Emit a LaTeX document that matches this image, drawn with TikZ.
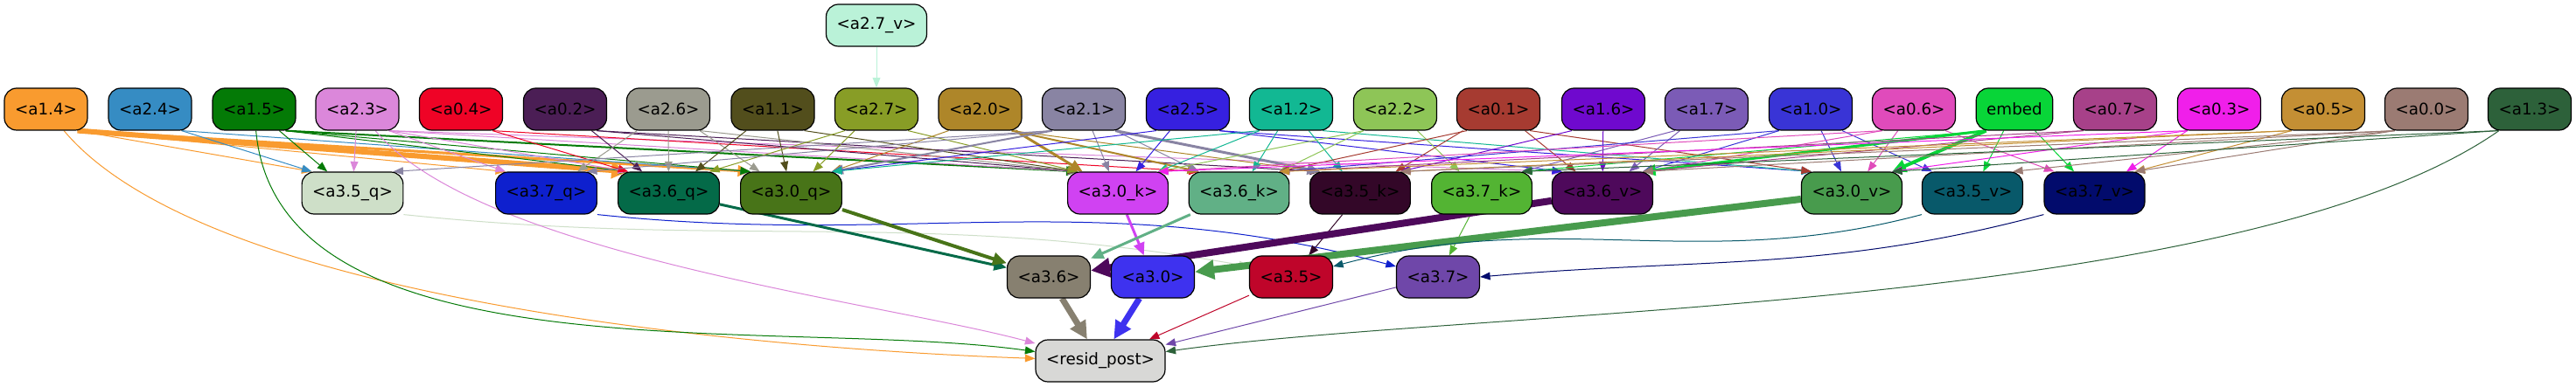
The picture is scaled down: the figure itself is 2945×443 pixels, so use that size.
\documentclass[tikz,border=0pt]{standalone}
\usepackage{fontspec}
\setmainfont{DejaVu Sans}
\usepackage{tikz}
\usetikzlibrary{arrows.meta}
\usetikzlibrary{backgrounds}
\usepackage{color}

\definecolor{cv27}{HTML}{BAF2D8}
\definecolor{c14}{HTML}{F99B2F}
\definecolor{c24}{HTML}{368CC3}
\definecolor{c15}{HTML}{047A06}
\definecolor{c23}{HTML}{DB87DA}
\definecolor{c04}{HTML}{EF0326}
\definecolor{c02}{HTML}{4B1E55}
\definecolor{c26}{HTML}{9B9B8F}
\definecolor{c11}{HTML}{524E1C}
\definecolor{c27}{HTML}{889D26}
\definecolor{c20}{HTML}{AE8629}
\definecolor{c21}{HTML}{8984A3}
\definecolor{c25}{HTML}{3620E0}
\definecolor{c12}{HTML}{12B893}
\definecolor{c22}{HTML}{8EC557}
\definecolor{c01}{HTML}{A63B31}
\definecolor{c16}{HTML}{6F09CE}
\definecolor{c17}{HTML}{7B5BB6}
\definecolor{c10}{HTML}{3934D6}
\definecolor{c06}{HTML}{E04BBB}
\definecolor{cemb}{HTML}{08D538}
\definecolor{c07}{HTML}{A74189}
\definecolor{c03}{HTML}{F01FEA}
\definecolor{c05}{HTML}{C48F34}
\definecolor{c00}{HTML}{9B7B73}
\definecolor{c13}{HTML}{2D613A}
\definecolor{cq35}{HTML}{CEDFC8}
\definecolor{cq37}{HTML}{0E20CE}
\definecolor{cq36}{HTML}{046A48}
\definecolor{cq30}{HTML}{487418}
\definecolor{ck30}{HTML}{D042F2}
\definecolor{ck36}{HTML}{61B086}
\definecolor{ck35}{HTML}{330728}
\definecolor{ck37}{HTML}{53B433}
\definecolor{cv36}{HTML}{4E095B}
\definecolor{cv30}{HTML}{489B4D}
\definecolor{cv35}{HTML}{08596A}
\definecolor{cv37}{HTML}{020B6C}
\definecolor{co36}{HTML}{878070}
\definecolor{co30}{HTML}{3E32EF}
\definecolor{co35}{HTML}{BF052A}
\definecolor{co37}{HTML}{6F47A9}
\definecolor{cres}{HTML}{D8D8D6}

\begin{document}
\begin{tikzpicture}[x=0.5pt, y=-0.5pt,
  box/.style={draw=black, line width=0.6pt, rounded corners=7pt, minimum height=24pt,
    inner xsep=6pt, inner ysep=0pt, font=\fontsize{9.15}{11}\selectfont},
  edge/.style={line width=0.5pt, -{Triangle[length=5pt 1.5, width=3.5pt 1.8]}}]

\useasboundingbox (0,0) rectangle (2945,443);

% top
\node [box, fill=cv27] (v27) at (1002,29) {<a2.7\_v>};

% first row
\node [box, fill=c14] (n14) at (52.5,125) {<a1.4>};
\node [box, fill=c24] (n24) at (171.5,125) {<a2.4>};
\node [box, fill=c15] (n15) at (290.5,125) {<a1.5>};
\node [box, fill=c23] (n23) at (408.5,125) {<a2.3>};
\node [box, fill=c04] (n04) at (527,125) {<a0.4>};
\node [box, fill=c02] (n02) at (646,125) {<a0.2>};
\node [box, fill=c26] (n26) at (764,125) {<a2.6>};
\node [box, fill=c11] (n11) at (883.5,125) {<a1.1>};
\node [box, fill=c27] (n27) at (1002,125) {<a2.7>};
\node [box, fill=c20] (n20) at (1120.5,125) {<a2.0>};
\node [box, fill=c21] (n21) at (1239,125) {<a2.1>};
\node [box, fill=c25] (n25) at (1358,125) {<a2.5>};
\node [box, fill=c12] (n12) at (1476,125) {<a1.2>};
\node [box, fill=c22] (n22) at (1595,125) {<a2.2>};
\node [box, fill=c01] (n01) at (1713,125) {<a0.1>};
\node [box, fill=c16] (n16) at (1833,125) {<a1.6>};
\node [box, fill=c17] (n17) at (1951,125) {<a1.7>};
\node [box, fill=c10] (n10) at (2070,125) {<a1.0>};
\node [box, fill=c06] (n06) at (2188,125) {<a0.6>};
\node [box, fill=cemb] (emb) at (2303,125) {embed};
\node [box, fill=c07] (n07) at (2418,125) {<a0.7>};
\node [box, fill=c03] (n03) at (2537,125) {<a0.3>};
\node [box, fill=c05] (n05) at (2656,125) {<a0.5>};
\node [box, fill=c00] (n00) at (2774,125) {<a0.0>};
\node [box, fill=c13] (n13) at (2892,125) {<a1.3>};

% second row
\node [box, fill=cq35] (q35) at (403,221) {<a3.5\_q>};
\node [box, fill=cq37] (q37) at (624.5,221) {<a3.7\_q>};
\node [box, fill=cq36] (q36) at (764.5,221) {<a3.6\_q>};
\node [box, fill=cq30] (q30) at (904.5,221) {<a3.0\_q>};
\node [box, fill=ck30] (k30) at (1278,221) {<a3.0\_k>};
\node [box, fill=ck36] (k36) at (1416.5,221) {<a3.6\_k>};
\node [box, fill=ck35] (k35) at (1555,221) {<a3.5\_k>};
\node [box, fill=ck37] (k37) at (1694,221) {<a3.7\_k>};
\node [box, fill=cv36] (v36) at (1832,221) {<a3.6\_v>};
\node [box, fill=cv30] (v30) at (2117,221) {<a3.0\_v>};
\node [box, fill=cv35] (v35) at (2255,221) {<a3.5\_v>};
\node [box, fill=cv37] (v37) at (2394.5,221) {<a3.7\_v>};

% third row
\node [box, fill=co36] (o36) at (1199,317) {<a3.6>};
\node [box, fill=co30] (o30) at (1318,317) {<a3.0>};
\node [box, fill=co35] (o35) at (1476,317) {<a3.5>};
\node [box, fill=co37] (o37) at (1644,317) {<a3.7>};

% output
\node [box, fill=cres] (resid) at (1258,413) {<resid\_post>};

\begin{scope}[on background layer]
\fill [white] (0,0) rectangle (2945,443);

% top to first row
\draw [edge, draw=cv27] (v27) -- (n27);

% first row to second row
\draw [edge, draw=c14] ([xshift=-6pt]n14.south east) -- ([xshift=6pt]q35.north west);
\draw [edge, draw=c14] ([xshift=-6pt]n14.south east) -- ([xshift=6pt]q37.north west);
\draw [edge, draw=c14, line width=3pt] ([xshift=-6pt]n14.south east) -- ([xshift=6pt]q36.north west);
\draw [edge, draw=c14, line width=1.5pt] ([xshift=-6pt]n14.south east) -- ([xshift=6pt]q30.north west);
\draw [edge, draw=c24] ([xshift=-6pt]n24.south east) -- ([xshift=6pt]q35.north west);
\draw [edge, draw=c24] ([xshift=-6pt]n24.south east) -- ([xshift=6pt]q30.north west);
\draw [edge, draw=c15] (n15) -- (q35);
\draw [edge, draw=c15] ([xshift=-6pt]n15.south east) -- ([xshift=6pt]q36.north west);
\draw [edge, draw=c15] ([xshift=-6pt]n15.south east) -- ([xshift=6pt]q30.north west);
\draw [edge, draw=c15, line width=1pt] ([xshift=-6pt]n15.south east) -- ([xshift=6pt]k30.north west);
\draw [edge, draw=c23] (n23) -- (q35);
\draw [edge, draw=c23] ([xshift=-6pt]n23.south east) -- ([xshift=6pt]q37.north west);
\draw [edge, draw=c23] ([xshift=-6pt]n23.south east) -- ([xshift=6pt]q36.north west);
\draw [edge, draw=c23] ([xshift=-6pt]n23.south east) -- ([xshift=6pt]k30.north west);
\draw [edge, draw=c23] ([xshift=-6pt]n23.south east) -- ([xshift=6pt]v36.north west);
\draw [edge, draw=c04] ([xshift=-6pt]n04.south east) -- ([xshift=6pt]q36.north west);
\draw [edge, draw=c04] ([xshift=-6pt]n04.south east) -- ([xshift=6pt]k36.north west);
\draw [edge, draw=c02] (n02) -- (q36);
\draw [edge, draw=c02] ([xshift=-6pt]n02.south east) -- ([xshift=6pt]k30.north west);
\draw [edge, draw=c02] ([xshift=-6pt]n02.south east) -- ([xshift=6pt]k35.north west);
\draw [edge, draw=c26] (n26) -- (q37);
\draw [edge, draw=c26] (n26) -- (q36);
\draw [edge, draw=c26] (n26) -- (q30);
\draw [edge, draw=c26] ([xshift=-6pt]n26.south east) -- ([xshift=6pt]k30.north west);
\draw [edge, draw=c11] (n11) -- (q36);
\draw [edge, draw=c11] (n11) -- (q30);
\draw [edge, draw=c11] ([xshift=-6pt]n11.south east) -- ([xshift=6pt]k30.north west);
\draw [edge, draw=c27] (n27) -- (q30);
\draw [edge, draw=c27] ([xshift=6pt]n27.south west) -- ([xshift=-6pt]q36.north east);
\draw [edge, draw=c27] ([xshift=-6pt]n27.south east) -- ([xshift=6pt]k30.north west);
\draw [edge, draw=c20] ([xshift=6pt]n20.south west) -- ([xshift=-6pt]q30.north east);
\draw [edge, draw=c20, line width=1.5pt] (n20) -- (k30);
\draw [edge, draw=c20, line width=1pt] ([xshift=-6pt]n20.south east) -- ([xshift=6pt]k36.north west);
\draw [edge, draw=c20] ([xshift=-6pt]n20.south east) -- ([xshift=6pt]k35.north west);
\draw [edge, draw=c21] ([xshift=6pt]n21.south west) -- ([xshift=-6pt]q35.north east);
\draw [edge, draw=c21] ([xshift=6pt]n21.south west) -- ([xshift=-6pt]q37.north east);
\draw [edge, draw=c21, line width=1pt] ([xshift=6pt]n21.south west) -- ([xshift=-6pt]q30.north east);
\draw [edge, draw=c21] (n21) -- (k30);
\draw [edge, draw=c21] ([xshift=-6pt]n21.south east) -- ([xshift=6pt]k36.north west);
\draw [edge, draw=c21, line width=1.5pt] ([xshift=-6pt]n21.south east) -- ([xshift=6pt]k35.north west);
\draw [edge, draw=c25] ([xshift=6pt]n25.south west) -- ([xshift=-6pt]q30.north east);
\draw [edge, draw=c25] (n25) -- (k30);
\draw [edge, draw=c25] ([xshift=-6pt]n25.south east) -- ([xshift=6pt]v36.north west);
\draw [edge, draw=c25] ([xshift=-6pt]n25.south east) -- ([xshift=6pt]v30.north west);
\draw [edge, draw=c12] ([xshift=6pt]n12.south west) -- ([xshift=-6pt]q30.north east);
\draw [edge, draw=c12] ([xshift=6pt]n12.south west) -- ([xshift=-6pt]k30.north east);
\draw [edge, draw=c12] (n12) -- (k36);
\draw [edge, draw=c12] (n12) -- (k35);
\draw [edge, draw=c12] ([xshift=-6pt]n12.south east) -- ([xshift=6pt]v30.north west);
\draw [edge, draw=c22] ([xshift=6pt]n22.south west) -- ([xshift=-6pt]k30.north east);
\draw [edge, draw=c22] ([xshift=6pt]n22.south west) -- ([xshift=-6pt]k36.north east);
\draw [edge, draw=c22] (n22) -- (k37);
\draw [edge, draw=c01] ([xshift=6pt]n01.south west) -- ([xshift=-6pt]k36.north east);
\draw [edge, draw=c01] (n01) -- (k35);
\draw [edge, draw=c01] (n01) -- (v36);
\draw [edge, draw=c01] ([xshift=-6pt]n01.south east) -- ([xshift=6pt]v30.north west);
\draw [edge, draw=c16] (n16) -- (v36);
\draw [edge, draw=c16] ([xshift=6pt]n16.south west) -- ([xshift=-6pt]k35.north east);
\draw [edge, draw=c17] (n17) -- (v36);
\draw [edge, draw=c17] ([xshift=6pt]n17.south west) -- ([xshift=-6pt]k37.north east);
\draw [edge, draw=c10] ([xshift=6pt]n10.south west) -- ([xshift=-6pt]v36.north east);
\draw [edge, draw=c10] (n10) -- (v30);
\draw [edge, draw=c10] ([xshift=-6pt]n10.south east) -- ([xshift=6pt]v35.north west);
\draw [edge, draw=c10] ([xshift=6pt]n10.south west) -- ([xshift=-6pt]k36.north east);
\draw [edge, draw=c06] ([xshift=6pt]n06.south west) -- ([xshift=-6pt]v36.north east);
\draw [edge, draw=c06] (n06) -- (v30);
\draw [edge, draw=c06] ([xshift=-6pt]n06.south east) -- ([xshift=6pt]v37.north west);
\draw [edge, draw=c06] ([xshift=6pt]n06.south west) -- ([xshift=-6pt]k30.north east);
\draw [edge, draw=cemb, line width=1.5pt] ([xshift=6pt]emb.south west) -- ([xshift=-6pt]v36.north east);
\draw [edge, draw=cemb, line width=2pt] ([xshift=6pt]emb.south west) -- ([xshift=-6pt]v30.north east);
\draw [edge, draw=cemb] (emb) -- (v35);
\draw [edge, draw=cemb] (emb) -- (v37);
\draw [edge, draw=cemb] ([xshift=6pt]emb.south west) -- ([xshift=-6pt]k37.north east);
\draw [edge, draw=c07] ([xshift=6pt]n07.south west) -- ([xshift=-6pt]k36.north east);
\draw [edge, draw=c07] ([xshift=6pt]n07.south west) -- ([xshift=-6pt]v36.north east);
\draw [edge, draw=c03] ([xshift=6pt]n03.south west) -- ([xshift=-6pt]v30.north east);
\draw [edge, draw=c03] (n03) -- (v37);
\draw [edge, draw=c03] ([xshift=6pt]n03.south west) -- ([xshift=-6pt]k30.north east);
\draw [edge, draw=c05] ([xshift=6pt]n05.south west) -- ([xshift=-6pt]v37.north east);
\draw [edge, draw=c05] ([xshift=6pt]n05.south west) -- ([xshift=-6pt]k35.north east);
\draw [edge, draw=c05] ([xshift=6pt]n05.south west) -- ([xshift=-6pt]k36.north east);
\draw [edge, draw=c00] ([xshift=6pt]n00.south west) -- ([xshift=-6pt]v37.north east);
\draw [edge, draw=c00] ([xshift=6pt]n00.south west) -- ([xshift=-6pt]v35.north east);
\draw [edge, draw=c00] ([xshift=6pt]n00.south west) -- ([xshift=-6pt]v36.north east);
\draw [edge, draw=c00] ([xshift=6pt]n00.south west) -- ([xshift=-6pt]k35.north east);
\draw [edge, draw=c13] ([xshift=6pt]n13.south west) -- ([xshift=-6pt]v30.north east);
\draw [edge, draw=c13] ([xshift=6pt]n13.south west) -- ([xshift=-6pt]k37.north east);

% second row to third row
\draw [edge, draw=cq35] (q35.south east) to[out=-6, in=170] ([yshift=6pt]o35.west);
\draw [edge, draw=cq37] (q37.south east) to[out=-6, in=165] ([yshift=6pt]o37.west);
\draw [edge, draw=cq36, line width=1.5pt] (q36) -- (o36);
\draw [edge, draw=cq30, line width=2pt] (q30) -- (o36);
\draw [edge, draw=ck30, line width=1.5pt] (k30) -- (o30);
\draw [edge, draw=ck36, line width=1.5pt] (k36) -- (o36);
\draw [edge, draw=ck35] (k35) -- (o35);
\draw [edge, draw=ck37] (k37) -- (o37);
\draw [edge, draw=cv36, line width=4pt] (v36) -- (o36);
\draw [edge, draw=cv30, line width=4pt] (v30) -- (o30);
\draw [edge, draw=cv35] (v35.south west) to[out=195, in=15] ([yshift=6pt]o35.east);
\draw [edge, draw=cv37] (v37.south west) to[out=195, in=5] (o37.east);

% into the output
\draw [edge, draw=co36, line width=3.5pt] (o36) -- (resid);
\draw [edge, draw=co30, line width=3.5pt] (o30) -- (resid);
\draw [edge, draw=co35] (o35) -- (resid);
\draw [edge, draw=co37] (o37) -- (resid);
\draw [edge, draw=c14] (n14) to[out=-50, in=178, looseness=0.6] (resid);
\draw [edge, draw=c15] (n15) to[out=-85, in=172, looseness=0.8] (resid);
\draw [edge, draw=c23] (n23) to[out=-50, in=165, looseness=0.6] (resid);
\draw [edge, draw=c13] (n13) to[out=215, in=8, looseness=0.6] (resid);
\end{scope}

\end{tikzpicture}
\end{document}
